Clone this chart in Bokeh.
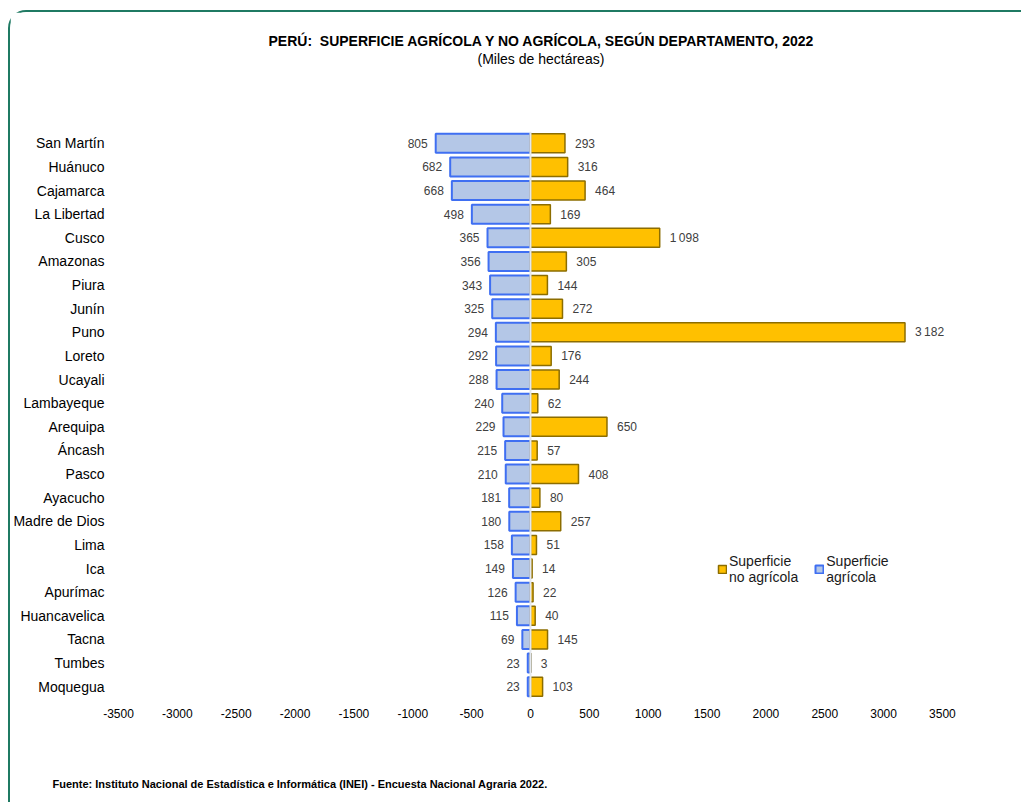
from bokeh.plotting import figure
from bokeh.models import (ColumnDataSource, FactorRange, Range1d, LabelSet, Span, Title,
                          Legend, LegendItem, FixedTicker)
from bokeh.core.properties import value
from bokeh.embed import file_html
from bokeh.resources import INLINE

departamentos = ["San Martín", "Huánuco", "Cajamarca", "La Libertad", "Cusco", "Amazonas",
                 "Piura", "Junín", "Puno", "Loreto", "Ucayali", "Lambayeque", "Arequipa",
                 "Áncash", "Pasco", "Ayacucho", "Madre de Dios", "Lima", "Ica", "Apurímac",
                 "Huancavelica", "Tacna", "Tumbes", "Moquegua"]
agricola = [805, 682, 668, 498, 365, 356, 343, 325, 294, 292, 288, 240, 229, 215, 210,
            181, 180, 158, 149, 126, 115, 69, 23, 23]
no_agricola = [293, 316, 464, 169, 1098, 305, 144, 272, 3182, 176, 244, 62, 650, 57, 408,
               80, 257, 51, 14, 22, 40, 145, 3, 103]
x_ticks = [-3500, -3000, -2500, -2000, -1500, -1000, -500, 0, 500, 1000, 1500, 2000,
           2500, 3000, 3500]

title_text = "PERÚ:\u00a0 SUPERFICIE AGRÍCOLA Y NO AGRÍCOLA, SEGÚN DEPARTAMENTO, 2022"
subtitle_text = "(Miles de hectáreas)"
source_text = ("Fuente: Instituto Nacional de Estadística e Informática (INEI) - "
               "Encuesta Nacional Agraria 2022.")
legend_no_agricola = "Superficie\nno agrícola"
legend_agricola = "Superficie\nagrícola"

FONT = "Liberation Sans Narrow, Liberation Sans, sans-serif"


def fmt(v):
    return f"{v:,}".replace(",", "\u2009")


src = ColumnDataSource(dict(
    dep=departamentos,
    agri_neg=[-v for v in agricola],
    noag=no_agricola,
    agri_lbl=[fmt(v) for v in agricola],
    noag_lbl=[fmt(v) for v in no_agricola],
))

p = figure(width=1013, height=792, title=None,
           y_range=FactorRange(factors=departamentos[::-1]),
           x_range=Range1d(-3500, 3560),
           output_backend="svg", toolbar_location=None,
           min_border_left=108, min_border_right=74,
           min_border_top=119, min_border_bottom=106)
p.styles = {"margin-left": "8px", "margin-top": "10px",
            "border-top": "2px solid #1F7A63", "border-left": "2px solid #1F7A63",
            "border-top-left-radius": "18px"}
p.background_fill_color = "white"
p.border_fill_color = "white"
p.outline_line_color = None
p.xgrid.visible = False
p.ygrid.visible = False

blue = p.hbar(y="dep", left="agri_neg", right=0, height=0.8, source=src,
              fill_color="#B4C7E7", line_color="#3F6FF2", line_width=2)
orange = p.hbar(y="dep", left=0, right="noag", height=0.8, source=src,
                fill_color="#FFC000", line_color="#8C6D00", line_width=1.5)

p.add_layout(Span(location=0, dimension="height", line_color="#E4E8EE", line_width=2))

for ax in (p.xaxis[0], p.yaxis[0]):
    ax.axis_line_color = None
    ax.major_tick_line_color = None
    ax.minor_tick_line_color = None
    ax.major_tick_out = 0
    ax.major_tick_in = 0
    ax.major_label_text_font = FONT
    ax.major_label_text_color = "#000000"

p.xaxis.ticker = FixedTicker(ticks=x_ticks)
p.xaxis.major_label_overrides = {t: str(t) for t in x_ticks}
p.xaxis.major_label_text_font_size = "12px"
p.xaxis.major_label_standoff = 10
p.yaxis.major_label_text_font_size = "14px"
p.yaxis.major_label_standoff = 14

p.add_layout(LabelSet(x="agri_neg", y="dep", text="agri_lbl", source=src, x_offset=-8,
                      text_align="right", text_baseline="middle", text_font_size="12px",
                      text_color="#404040", text_font=value(FONT)))
p.add_layout(LabelSet(x="noag", y="dep", text="noag_lbl", source=src, x_offset=10,
                      text_align="left", text_baseline="middle", text_font_size="12px",
                      text_color="#404040", text_font=value(FONT)))

legend = Legend(items=[LegendItem(label=legend_no_agricola, renderers=[orange]),
                       LegendItem(label=legend_agricola, renderers=[blue])],
                orientation="horizontal", location=(599, 113),
                glyph_width=10, glyph_height=10, label_standoff=2, spacing=16,
                padding=0, margin=0, border_line_color=None, background_fill_alpha=0,
                label_text_font=FONT, label_text_font_size="14px",
                label_text_color="#1A1A1A")
p.add_layout(legend)

# above panel (stacked from the frame outward): spacer, subtitle, title
p.add_layout(Title(text=" ", standoff=47, text_font=FONT, text_font_size="14px"), "above")
p.add_layout(Title(text=subtitle_text, align="left", offset=359, standoff=0,
                   text_font=FONT, text_font_size="14px", text_font_style="normal",
                   text_color="#000000"), "above")
p.add_layout(Title(text=title_text, align="left", offset=150, standoff=0,
                   text_font=FONT, text_font_size="14px", text_font_style="bold",
                   text_color="#000000"), "above")
# below panel: axis, spacer, source note
p.add_layout(Title(text=" ", standoff=37, text_font=FONT, text_font_size="14px"), "below")
p.add_layout(Title(text=source_text, align="left", offset=-66, standoff=0,
                   text_font=FONT, text_font_size="11px", text_font_style="bold",
                   text_color="#000000"), "below")

open("out.html", "w").write(file_html(p, INLINE))
